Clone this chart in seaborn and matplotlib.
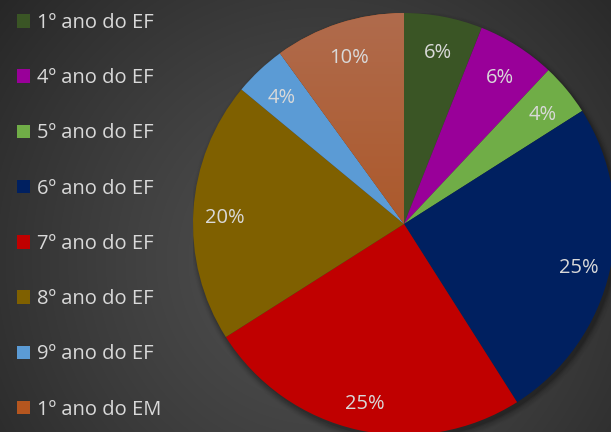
import numpy as np
import matplotlib
matplotlib.use("Agg")
import matplotlib.pyplot as plt
import seaborn as sns
from matplotlib.patches import Patch, Circle

categories = ["1º ano do EF", "4º ano do EF", "5º ano do EF", "6º ano do EF",
              "7º ano do EF", "8º ano do EF", "9º ano do EF", "1º ano do EM"]
values = [6, 6, 4, 25, 25, 20, 4, 10]
colors = ["#3a5525", "#990099", "#70ad47", "#002060",
          "#c00000", "#7f6000", "#5b9bd5", "#ac5421"]

sns.set_theme(style="dark")
plt.rcParams['font.family'] = ['Open Sans', 'DejaVu Sans']

W, H = 611, 432
fig = plt.figure(figsize=(W / 100, H / 100), dpi=100)

# background radial gradient
bg = fig.add_axes([0, 0, 1, 1])
yy, xx = np.mgrid[0:H, 0:W]
d = np.sqrt((xx - 320) ** 2 + (yy - 260) ** 2) / 420.0
d = np.clip(d, 0, 1)
inner, outer = 0.31, 0.15
g = inner + (outer - inner) * d ** 1.3
bg.imshow(np.dstack([g, g, g]), extent=[0, W, H, 0], aspect='auto')
bg.set_axis_off()

cx, cy, r = 404, 224, 211
ax = fig.add_axes([(cx - r) / W, (H - cy - r) / H, 2 * r / W, 2 * r / H])
ax.set_facecolor("none")

# soft shadow
for i, a in enumerate(np.linspace(0.10, 0.02, 6)):
    sh = Circle((0.012, -0.018), 1.0 + 0.006 * i, color="black", alpha=a, zorder=0, lw=0)
    ax.add_patch(sh)

wedges, texts, autotexts = ax.pie(
    values, colors=colors, startangle=90, counterclock=False,
    autopct=lambda p: f"{p:.0f}%", pctdistance=0.85,
    textprops=dict(color="#d9d9d9", fontsize=14.5),
    wedgeprops=dict(linewidth=0))

# gradient on last wedge
grad = np.linspace(0, 1, 200)[:, None]
top = np.array([0.69, 0.42, 0.30])
bot = np.array([0.66, 0.28, 0.04])
img = top[None, None, :] * (1 - grad[..., None]) + bot[None, None, :] * grad[..., None]
img = np.repeat(img, 2, axis=1)
im = ax.imshow(img, extent=[-1, 1, -1, 1], aspect='auto', zorder=1.5)
im.set_clip_path(wedges[-1])
for t in autotexts:
    t.set_zorder(3)
    x, y = t.get_position()
    t.set_position((x, y - 5.0 / r))

ax.set_xlim(-1, 1)
ax.set_ylim(-1, 1)
ax.set_aspect('auto')

handles = [Patch(facecolor=c, edgecolor='none') for c in colors]
handles[-1] = Patch(facecolor="#b5561f", edgecolor='none')
leg = fig.legend(handles, categories, loc='upper left',
                 bbox_to_anchor=(17 / W, 1 - 13 / H), frameon=False,
                 fontsize=14.5, labelcolor="#d9d9d9",
                 handlelength=0.65, handleheight=0.65, handletextpad=0.35,
                 labelspacing=1.75, borderaxespad=0, borderpad=0)

fig.savefig("out.png", dpi=100)
